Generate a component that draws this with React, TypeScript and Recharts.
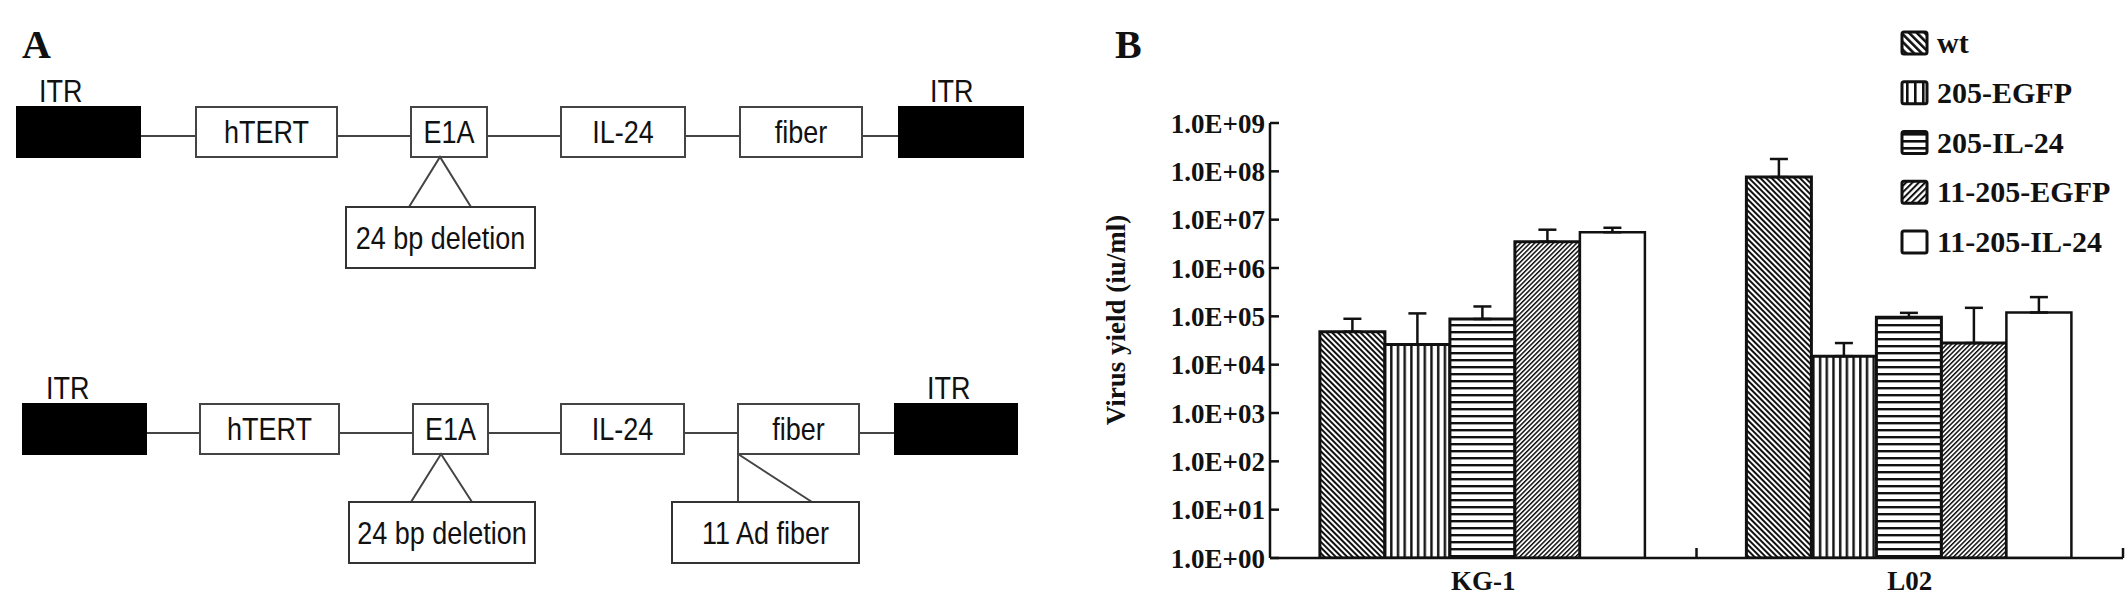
import React from 'react';
import { BarChart, Bar, XAxis, YAxis, ErrorBar, Legend } from 'recharts';

// ---------- Panel B data ----------
const categories = ['KG-1', 'L02'];
const seriesNames = ['wt', '205-EGFP', '205-IL-24', '11-205-EGFP', '11-205-IL-24'];
const seriesKeys = ['wt', 'egfp205', 'il24205', 'egfp11', 'il2411'];

const wtValues = [4.8e4, 7.6e7];
const egfp205Values = [2.6e4, 1.5e4];
const il24205Values = [8.8e4, 9.6e4];
const egfp11Values = [3.5e6, 2.8e4];
const il2411Values = [5.5e6, 1.2e5];

// tops of the (upper-only) error bars
const wtErrTop = [8.9e4, 1.8e8];
const egfp205ErrTop = [1.15e5, 2.8e4];
const il24205ErrTop = [1.6e5, 1.18e5];
const egfp11ErrTop = [6.2e6, 1.5e5];
const il2411ErrTop = [6.8e6, 2.5e5];

const yTicks = [1, 1e1, 1e2, 1e3, 1e4, 1e5, 1e6, 1e7, 1e8, 1e9];
const yTickLabels = ['1.0E+00', '1.0E+01', '1.0E+02', '1.0E+03', '1.0E+04', '1.0E+05', '1.0E+06', '1.0E+07', '1.0E+08', '1.0E+09'];
const yTitle = 'Virus yield (iu/ml)';

// ---------- Panel A labels ----------
const constructLabels = ['ITR', 'hTERT', 'E1A', 'IL-24', 'fiber', 'ITR'];
const noteLabelsRow1 = ['24 bp deletion'];
const noteLabelsRow2 = ['24 bp deletion', '11 Ad fiber'];

const seriesValues = [wtValues, egfp205Values, il24205Values, egfp11Values, il2411Values];
const seriesErrTop = [wtErrTop, egfp205ErrTop, il24205ErrTop, egfp11ErrTop, il2411ErrTop];

const data = categories.map((name, i) => {
  const row: any = { name };
  seriesKeys.forEach((k, s) => {
    row[k] = seriesValues[s][i];
    row[k + 'Err'] = [0, seriesErrTop[s][i] - seriesValues[s][i]];
  });
  return row;
});

const SANS = "'Liberation Sans', Arial, sans-serif";
const SERIF = "'Liberation Serif', 'Times New Roman', serif";
const INK = '#111';

// ---------- layout ----------
const CHART_LEFT = 1100;
const CHART_W = 1027;
const CHART_H = 601;
const Y_AXIS_W = 170;
const X_AXIS_H = 43;
const MARGIN = { top: 123, right: 4, bottom: 0, left: 0 };
const PLOT_W = CHART_W - Y_AXIS_W - MARGIN.right - MARGIN.left;
const BAND = PLOT_W / categories.length;

const PatternDefs = () => (
  <svg width={0} height={0} style={{ position: 'absolute' }}>
    <defs>
      <pattern id="pat-wt" patternUnits="userSpaceOnUse" width={4} height={4} patternTransform="rotate(-45)">
        <rect width={4} height={4} fill="#fff" />
        <rect width={2} height={4} fill={INK} />
      </pattern>
      <pattern id="pat-egfp205" patternUnits="userSpaceOnUse" width={6.7} height={10}>
        <rect width={6.7} height={10} fill="#fff" />
        <rect x={2} width={2.4} height={10} fill={INK} />
      </pattern>
      <pattern id="pat-il24205" patternUnits="userSpaceOnUse" width={10} height={7}>
        <rect width={10} height={7} fill="#fff" />
        <rect y={2} width={10} height={2.4} fill={INK} />
      </pattern>
      <pattern id="pat-egfp11" patternUnits="userSpaceOnUse" width={3.3} height={3.3} patternTransform="rotate(45)">
        <rect width={3.3} height={3.3} fill="#fff" />
        <rect width={1.5} height={3.3} fill={INK} />
      </pattern>
      <pattern id="pat-il2411" patternUnits="userSpaceOnUse" width={4} height={4}>
        <rect width={4} height={4} fill="#fff" />
      </pattern>

      <pattern id="lg-wt" patternUnits="userSpaceOnUse" width={5.5} height={5.5} patternTransform="rotate(-45)">
        <rect width={5.5} height={5.5} fill="#fff" />
        <rect width={2.6} height={5.5} fill={INK} />
      </pattern>
      <pattern id="lg-egfp205" patternUnits="userSpaceOnUse" width={8} height={10}>
        <rect width={8} height={10} fill="#fff" />
        <rect x={0} width={2.6} height={10} fill={INK} />
      </pattern>
      <pattern id="lg-il24205" patternUnits="userSpaceOnUse" width={10} height={7}>
        <rect width={10} height={7} fill="#fff" />
        <rect y={0} width={10} height={2.6} fill={INK} />
      </pattern>
      <pattern id="lg-egfp11" patternUnits="userSpaceOnUse" width={4.5} height={4.5} patternTransform="rotate(45)">
        <rect width={4.5} height={4.5} fill="#fff" />
        <rect width={2} height={4.5} fill={INK} />
      </pattern>
      <pattern id="lg-il2411" patternUnits="userSpaceOnUse" width={4} height={4}>
        <rect width={4} height={4} fill="#fff" />
      </pattern>
    </defs>
  </svg>
);

// ---------- Panel A (schematic) ----------
const STxt = ({ x, y, children, anchor = 'middle' }: any) => (
  <text
    transform={`translate(${x},${y}) scale(1,1.15)`}
    textAnchor={anchor}
    fontFamily={SANS}
    fontSize={27}
    fill={INK}
  >
    {children}
  </text>
);

const rowLayouts = [
  {
    top: 107, bottom: 157, lineY: 136, itrBase: 102,
    boxes: [[17, 140], [196, 337], [411, 487], [561, 685], [740, 862], [899, 1023]],
    itrText: [39, 930],
  },
  {
    top: 404, bottom: 454, lineY: 433, itrBase: 399,
    boxes: [[23, 146], [200, 339], [413, 488], [561, 684], [738, 859], [895, 1017]],
    itrText: [46, 927],
  },
];

const ConstructRow = ({ layout }: any) => {
  const { top, bottom, lineY, boxes, itrText, itrBase } = layout;
  const h = bottom - top;
  const first = boxes[0];
  const last = boxes[boxes.length - 1];
  return (
    <g>
      <line x1={first[1]} x2={last[0]} y1={lineY} y2={lineY} stroke="#444" strokeWidth={2} />
      {boxes.map((b: number[], i: number) => {
        const dark = constructLabels[i] === 'ITR';
        return (
          <g key={i}>
            <rect
              x={b[0]} y={top} width={b[1] - b[0]} height={h}
              fill={dark ? '#000' : '#fff'}
              stroke={dark ? '#000' : '#444'} strokeWidth={2}
            />
            {!dark && (
              <STxt x={(b[0] + b[1]) / 2} y={(top + bottom) / 2 + 11}>{constructLabels[i]}</STxt>
            )}
          </g>
        );
      })}
      <STxt x={itrText[0]} y={itrBase} anchor="start">{constructLabels[0]}</STxt>
      <STxt x={itrText[1]} y={itrBase} anchor="start">{constructLabels[5]}</STxt>
    </g>
  );
};

const NoteBox = ({ x1, x2, y1, y2, label }: any) => (
  <g>
    <rect x={x1} y={y1} width={x2 - x1} height={y2 - y1} fill="#fff" stroke="#333" strokeWidth={2} />
    <STxt x={(x1 + x2) / 2} y={(y1 + y2) / 2 + 11}>{label}</STxt>
  </g>
);

const PanelA = () => (
  <svg width={1100} height={601} style={{ position: 'absolute', left: 0, top: 0 }}>
    <text x={22} y={58} fontFamily={SERIF} fontWeight="bold" fontSize={40} fill={INK}>A</text>
    <ConstructRow layout={rowLayouts[0]} />
    <polyline points="409,207 440,157 471,207" fill="none" stroke="#444" strokeWidth={2} />
    <NoteBox x1={346} x2={535} y1={207} y2={268} label={noteLabelsRow1[0]} />

    <ConstructRow layout={rowLayouts[1]} />
    <polyline points="411,502 441,454 472,502" fill="none" stroke="#444" strokeWidth={2} />
    <NoteBox x1={349} x2={535} y1={502} y2={563} label={noteLabelsRow2[0]} />
    <line x1={738} y1={454} x2={738} y2={502} stroke="#444" strokeWidth={2} />
    <line x1={738} y1={454} x2={812} y2={502} stroke="#444" strokeWidth={2} />
    <NoteBox x1={672} x2={859} y1={502} y2={563} label={noteLabelsRow2[1]} />
  </svg>
);

// ---------- Panel B pieces ----------
const YTick = (props: any) => {
  const { x, y, payload } = props;
  const exp = Math.round(Math.log10(payload.value));
  return (
    <g>
      <line x1={x} x2={x + 9} y1={y} y2={y} stroke={INK} strokeWidth={2.5} />
      <text x={x - 5} y={y + 9.5} textAnchor="end" fontFamily={SERIF} fontWeight="bold" fontSize={27} fill={INK}>
        {yTickLabels[exp]}
      </text>
    </g>
  );
};

const XTick = (props: any) => {
  const { x, y, payload } = props;
  return (
    <g>
      <line x1={x + BAND / 2} x2={x + BAND / 2} y1={y} y2={y - 10} stroke={INK} strokeWidth={2.5} />
      <text x={x} y={y + 32} textAnchor="middle" fontFamily={SERIF} fontWeight="bold" fontSize={27} fill={INK}>
        {payload.value}
      </text>
    </g>
  );
};

const YTitle = () => (
  <text
    transform="translate(16,320) rotate(-90)"
    textAnchor="middle"
    dominantBaseline="central"
    fontFamily={SERIF}
    fontWeight="bold"
    fontSize={27}
    fill={INK}
  >
    {yTitle}
  </text>
);

const LegendContent = () => (
  <svg width={330} height={270}>
    {seriesNames.map((name, i) => {
      const cy = 43 + i * 49.75;
      return (
        <g key={name}>
          <rect x={12} y={cy - 11} width={25} height={22} rx={2} fill={`url(#lg-${seriesKeys[i]})`} stroke={INK} strokeWidth={3} />
          <text x={47} y={cy + 10} fontFamily={SERIF} fontWeight="bold" fontSize={30} fill={INK}>{name}</text>
        </g>
      );
    })}
  </svg>
);

export default function App() {
  return (
    <div style={{ position: 'absolute', left: 0, top: 0, width: 2127, height: 601, background: '#fff', overflow: 'hidden' }}>
      <PatternDefs />
      <PanelA />
      <svg width={100} height={80} style={{ position: 'absolute', left: 1100, top: 0 }}>
        <text x={15} y={58} fontFamily={SERIF} fontWeight="bold" fontSize={40} fill={INK}>B</text>
      </svg>
      <div style={{ position: 'absolute', left: CHART_LEFT, top: 0 }}>
        <BarChart width={CHART_W} height={CHART_H} data={data} margin={MARGIN} barCategoryGap="11.7%" barGap={0}>
          <XAxis
            dataKey="name"
            height={X_AXIS_H}
            axisLine={{ stroke: INK, strokeWidth: 2.5 }}
            tickLine={false}
            tickSize={0}
            tickMargin={0}
            interval={0}
            tick={(p: any) => <XTick {...p} />}
          />
          <YAxis
            type="number"
            scale="log"
            domain={[1, 1e9]}
            allowDataOverflow
            ticks={yTicks}
            interval={0}
            width={Y_AXIS_W}
            axisLine={{ stroke: INK, strokeWidth: 2.5 }}
            tickLine={false}
            tickSize={0}
            tickMargin={0}
            tick={(p: any) => <YTick {...p} />}
            label={<YTitle />}
          />
          {seriesKeys.map((k, i) => (
            <Bar
              key={k}
              dataKey={k}
              name={seriesNames[i]}
              fill={`url(#pat-${k})`}
              stroke={INK}
              strokeWidth={k === 'il2411' ? 2.5 : 3}
              isAnimationActive={false}
            >
              <ErrorBar dataKey={k + 'Err'} width={9} stroke={INK} strokeWidth={2.5} direction="y" />
            </Bar>
          ))}
          <Legend
            layout="vertical"
            align="center"
            verticalAlign="middle"
            content={() => <LegendContent />}
            wrapperStyle={{ left: 790, top: 0, width: 330, height: 270 }}
          />
        </BarChart>
      </div>
    </div>
  );
}
